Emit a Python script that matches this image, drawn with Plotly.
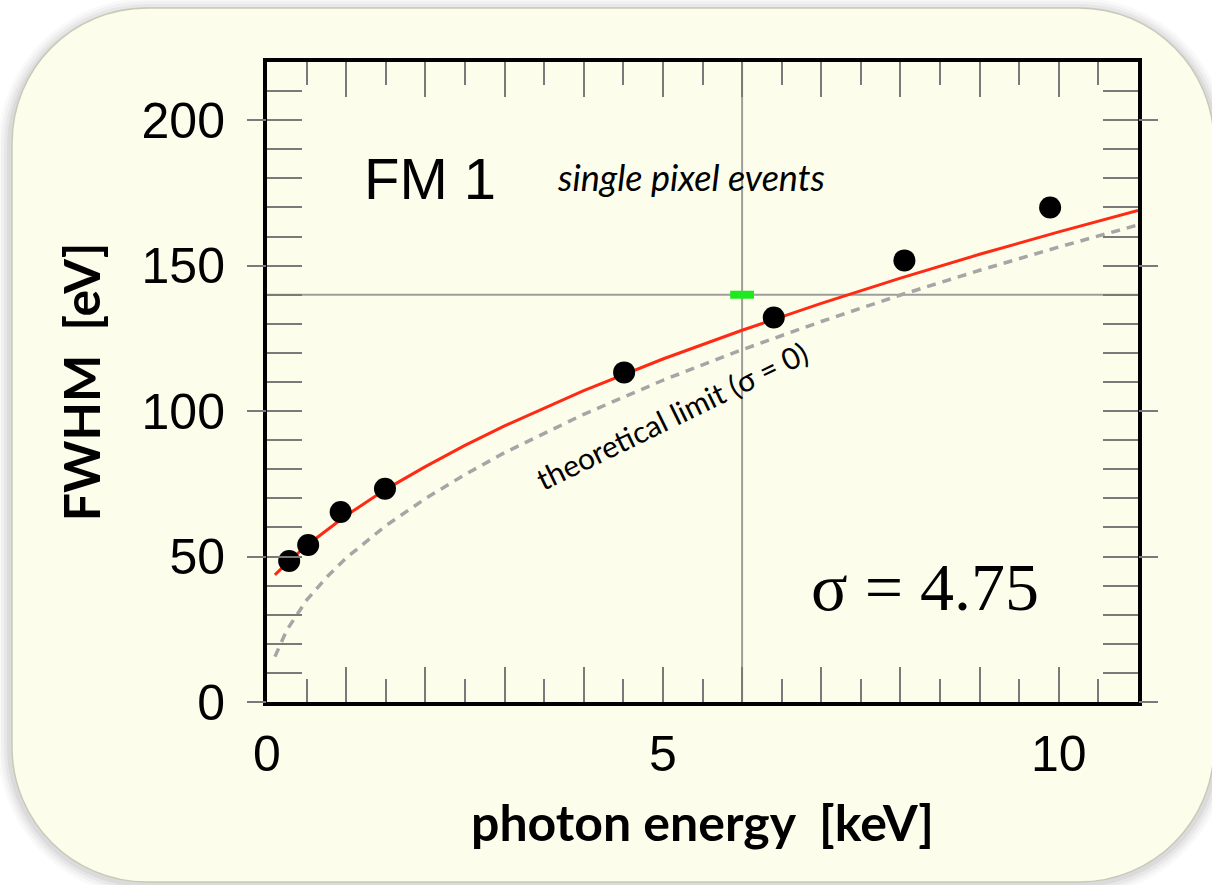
import plotly.graph_objects as go

# ---------------- data ----------------
energy_keV = [0.28, 0.52, 0.93, 1.49, 4.51, 6.40, 8.05, 9.89]
fwhm_eV = [48.5, 54.0, 65.3, 73.3, 113.3, 132.2, 151.8, 170.0]

fit_energy = [0.1, 0.25, 0.5, 0.75, 1.0, 1.5, 2.0, 2.5, 3.0, 4.0, 5.0, 6.0, 7.0, 8.0, 9.0, 10.0, 11.0]
fit_fwhm = [43.7, 47.7, 53.8, 59.1, 64.1, 73.1, 80.9, 88.2, 94.9, 107.0, 117.9, 127.8, 137.0, 145.7, 153.9, 161.6, 169.0]

theory_energy = [0.1, 0.25, 0.5, 0.75, 1.0, 1.5, 2.0, 2.5, 3.0, 4.0, 5.0, 6.0, 7.0, 8.0, 9.0, 10.0, 11.0]
theory_fwhm = [15.6, 24.7, 35.0, 42.8, 49.5, 60.6, 69.9, 78.2, 85.7, 98.9, 110.6, 121.1, 130.8, 139.9, 148.4, 156.4, 164.0]

ref_energy = 6.0
ref_fwhm = 140.0

x_range = [0, 11]
y_range = [0, 220]
x_tick_vals = [0, 5, 10]
y_tick_vals = [0, 50, 100, 150, 200]

# ---------------- layout geometry ----------------
W, H = 1212, 885
ML, MR, MT, MB = 267, 74, 62, 183
PW, PH = W - ML - MR, H - MT - MB


def px(x):
    return (x - ML) / PW


def py(y):
    return (H - MB - y) / PH


def rounded_path(x0, y0, x1, y1, r):
    k = 0.5523 * r
    pts = [
        ("M", [(x0 + r, y0)]),
        ("L", [(x1 - r, y0)]),
        ("C", [(x1 - r + k, y0), (x1, y0 + r - k), (x1, y0 + r)]),
        ("L", [(x1, y1 - r)]),
        ("C", [(x1, y1 - r + k), (x1 - r + k, y1), (x1 - r, y1)]),
        ("L", [(x0 + r, y1)]),
        ("C", [(x0 + r - k, y1), (x0, y1 - r + k), (x0, y1 - r)]),
        ("L", [(x0, y0 + r)]),
        ("C", [(x0, y0 + r - k), (x0 + r - k, y0), (x0 + r, y0)]),
    ]
    s = ""
    for cmd, ps in pts:
        s += cmd + " " + " ".join(f"{px(a):.5f},{py(b):.5f}" for a, b in ps) + " "
    return s + "Z"


shapes = []
# soft shadow
for i, a in enumerate([0.025, 0.03, 0.04, 0.05]):
    g = 14 - i * 3
    shapes.append(dict(type="path", xref="paper", yref="paper", layer="below",
                       path=rounded_path(12 - g, 8 - g + 4, 1214 + g, 882 + g, 135 + g),
                       fillcolor=f"rgba(0,0,0,{a})", line=dict(width=0)))
# card
shapes.append(dict(type="path", xref="paper", yref="paper", layer="below",
                   path=rounded_path(12, 8, 1214, 882, 135),
                   fillcolor="#fdfdec", line=dict(color="#c9c9b8", width=1.5)))

# crosshair through reference point
shapes.append(dict(type="line", xref="x", yref="y", layer="below",
                   x0=ref_energy, x1=ref_energy, y0=y_range[0], y1=y_range[1],
                   line=dict(color="#9e9e9e", width=2)))
shapes.append(dict(type="line", xref="x", yref="y", layer="below",
                   x0=x_range[0], x1=x_range[1], y0=ref_fwhm, y1=ref_fwhm,
                   line=dict(color="#9e9e9e", width=2)))

fig = go.Figure()

fig.add_trace(go.Scatter(x=theory_energy, y=theory_fwhm, mode="lines",
                         line=dict(color="#a6a6a6", width=3.5, dash="9px,7px"),
                         hoverinfo="skip", showlegend=False))
fig.add_trace(go.Scatter(x=fit_energy, y=fit_fwhm, mode="lines",
                         line=dict(color="#ff2a14", width=3),
                         hoverinfo="skip", showlegend=False))
fig.add_trace(go.Scatter(x=energy_keV, y=fwhm_eV, mode="markers",
                         marker=dict(color="black", size=22),
                         showlegend=False))
fig.add_trace(go.Scatter(x=[ref_energy], y=[ref_fwhm], mode="markers",
                         marker=dict(symbol="line-ew", size=17,
                                     line=dict(color="#1ee81e", width=8)),
                         showlegend=False))
# helper traces so the overlay axes are drawn
fig.add_trace(go.Scatter(x=[None], y=[None], xaxis="x2", yaxis="y", showlegend=False))
fig.add_trace(go.Scatter(x=[None], y=[None], xaxis="x", yaxis="y2", showlegend=False))
fig.add_trace(go.Scatter(x=[None], y=[None], xaxis="x", yaxis="y3", showlegend=False))

tick_color = "#7a7a7a"
tick_font = dict(family="Liberation Sans, Arial", size=50, color="black")
title_font = dict(family="Lato, Calibri, sans-serif", size=50, color="black")

fig.update_layout(
    width=W, height=H, autosize=False,
    margin=dict(l=ML, r=MR, t=MT, b=MB, pad=0),
    paper_bgcolor="#ffffff",
    plot_bgcolor="rgba(0,0,0,0)",
    shapes=shapes,
    xaxis=dict(range=x_range, tickvals=x_tick_vals, ticks="inside", ticklen=35,
               tickwidth=2, tickcolor=tick_color,
               minor=dict(dtick=1, ticks="inside", ticklen=35, tickwidth=2, tickcolor=tick_color),
               showline=True, linewidth=4, linecolor="black", mirror="ticks",
               showgrid=False, zeroline=False, tickfont=tick_font,
               ticklabelstandoff=5,
               title=dict(text="<b>photon energy  [keV]</b>", font=title_font, standoff=26)),
    xaxis2=dict(range=x_range, overlaying="x", side="bottom", anchor="y",
                dtick=0.5, tick0=0, ticks="inside", ticklen=23, tickwidth=2,
                tickcolor=tick_color, mirror="ticks", showline=False,
                showticklabels=False, showgrid=False, zeroline=False),
    yaxis=dict(range=y_range, tickvals=y_tick_vals, ticks="inside", ticklen=35,
               tickwidth=2, tickcolor=tick_color,
               minor=dict(dtick=10, ticks="inside", ticklen=35, tickwidth=2, tickcolor=tick_color),
               showline=True, linewidth=4, linecolor="black", mirror="ticks",
               showgrid=False, zeroline=False, tickfont=tick_font,
               ticklabelstandoff=28,
               title=dict(text="<b>FWHM  [eV]</b>", font=title_font, standoff=26)),
    yaxis2=dict(range=y_range, overlaying="y", side="left", anchor="x",
                tickvals=y_tick_vals, ticks="outside", ticklen=19, tickwidth=2,
                tickcolor=tick_color, showline=False, showticklabels=False,
                showgrid=False, zeroline=False),
    yaxis3=dict(range=y_range, overlaying="y", side="right", anchor="x",
                tickvals=y_tick_vals, ticks="outside", ticklen=19, tickwidth=2,
                tickcolor=tick_color, showline=False, showticklabels=False,
                showgrid=False, zeroline=False),
)

fig.add_annotation(x=2.06, y=180.0, xref="x", yref="y", text="FM 1", showarrow=False,
                   font=dict(family="Liberation Sans, Arial", size=58, color="black"))
fig.add_annotation(x=5.36, y=180.5, xref="x", yref="y", text="<i>single pixel events</i>",
                   showarrow=False, font=dict(family="Lato, Calibri, sans-serif", size=36, color="black"))
fig.add_annotation(x=5.12, y=98.5, xref="x", yref="y", text="theoretical limit (σ = 0)",
                   showarrow=False, textangle=-26,
                   font=dict(family="Lato, Calibri, sans-serif", size=30, color="black"))
fig.add_annotation(x=8.31, y=39.5, xref="x", yref="y", text="σ = 4.75", showarrow=False,
                   font=dict(family="Liberation Serif, Times New Roman", size=68, color="black"))

fig.write_html("out.html")
